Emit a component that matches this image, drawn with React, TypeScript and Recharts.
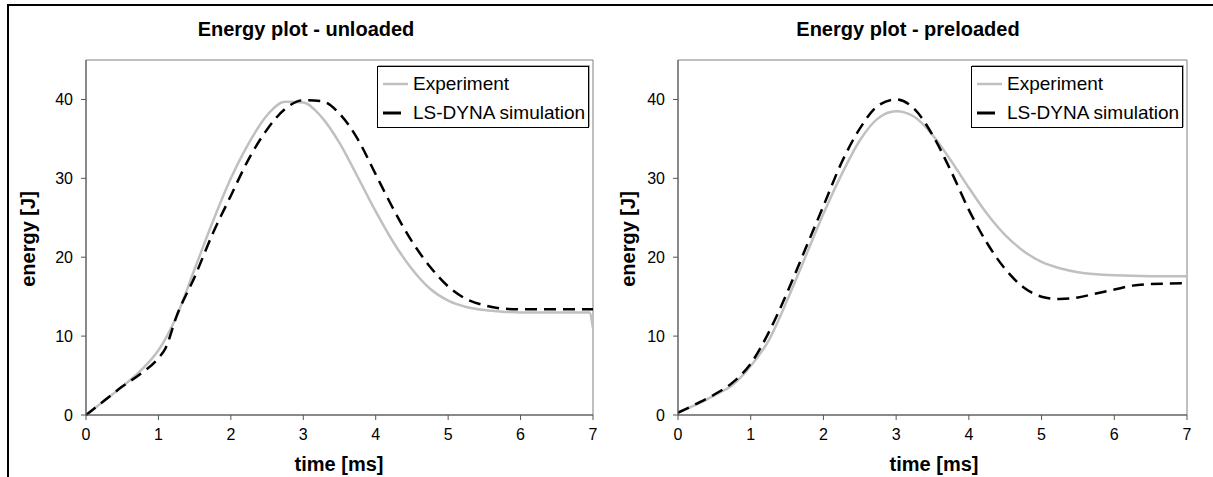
import { LineChart, Line, XAxis, YAxis, ReferenceArea, Legend } from 'recharts';

// time [ms] / energy [J]
const UNL_EXP_T = [0, 0.25, 0.5, 0.75, 1.0, 1.25, 1.5, 1.75, 2.0, 2.25, 2.5, 2.75, 3.0, 3.25, 3.5, 3.75, 4.0, 4.25, 4.5, 4.75, 5.0, 5.25, 5.5, 5.75, 6.0, 6.5, 6.95, 7.0];
const UNL_EXP_E = [0, 1.8, 3.6, 5.6, 8.2, 12.5, 18.5, 24.5, 30, 34.5, 38, 39.7, 39.6, 37.8, 34.5, 30.2, 25.8, 21.8, 18.5, 16, 14.5, 13.7, 13.3, 13.1, 13.0, 13.0, 13.0, 11];

const UNL_SIM_T = [0, 0.25, 0.5, 0.75, 1.0, 1.1, 1.25, 1.5, 1.75, 2.0, 2.25, 2.5, 2.75, 3.0, 3.25, 3.5, 3.75, 4.0, 4.25, 4.5, 4.75, 5.0, 5.25, 5.5, 5.75, 6.0, 6.5, 7.0];
const UNL_SIM_E = [0, 1.8, 3.6, 5.2, 7.2, 8.5, 12.5, 17.5, 23, 27.8, 32.5, 36.2, 38.8, 39.9, 39.8, 38.2, 35, 30.5, 26, 22, 18.8, 16.3, 14.7, 13.9, 13.5, 13.4, 13.4, 13.4];

const PRE_EXP_T = [0, 0.25, 0.5, 0.75, 1.0, 1.25, 1.5, 1.75, 2.0, 2.25, 2.5, 2.75, 3.0, 3.25, 3.5, 3.75, 4.0, 4.25, 4.5, 4.75, 5.0, 5.25, 5.5, 6.0, 6.5, 7.0];
const PRE_EXP_E = [0.3, 1.3, 2.5, 3.8, 6.2, 9.5, 14.5, 20, 25.5, 30.5, 34.8, 37.6, 38.5, 37.8, 35.5, 32.3, 28.8, 25.5, 22.8, 20.8, 19.4, 18.6, 18.1, 17.7, 17.6, 17.6];

const PRE_SIM_T = [0, 0.25, 0.5, 0.75, 1.0, 1.25, 1.5, 1.75, 2.0, 2.25, 2.5, 2.75, 3.0, 3.25, 3.5, 3.75, 4.0, 4.25, 4.5, 4.75, 5.0, 5.25, 5.5, 5.75, 6.0, 6.25, 6.5, 7.0];
const PRE_SIM_E = [0.3, 1.4, 2.6, 4.1, 6.5, 10.5, 15.5, 21, 26.5, 32, 36.3, 39.2, 40, 38.8, 35.5, 31, 26, 21.8, 18.5, 16.2, 15.0, 14.7, 14.9, 15.4, 15.9, 16.4, 16.6, 16.7];

const X_TICKS = [0, 1, 2, 3, 4, 5, 6, 7];
const Y_TICKS = [0, 10, 20, 30, 40];
const SERIES_NAMES = ['Experiment', 'LS-DYNA simulation'];

const toPoints = (t: number[], e: number[]) => t.map((x, i) => ({ t: x, e: e[i] }));

const FONT = 'Arial, "Liberation Sans", sans-serif';
const tickStyle = { fontSize: 16, fill: '#000', fontFamily: FONT };

const LegendBox = (props: any) => {
  const items = props.payload || [];
  return (
    <div
      style={{
        border: '1px solid #000',
        boxShadow: '1px -1px 0 #aaa',
        background: '#fff',
        width: 212,
        height: 62,
        boxSizing: 'border-box',
        fontFamily: FONT,
        fontSize: 19,
        paddingTop: 2,
        whiteSpace: 'nowrap',
      }}
    >
      {items.map((it: any) => (
        <div key={it.value} style={{ display: 'flex', alignItems: 'center', height: 29 }}>
          <svg width={35} height={10} style={{ flex: 'none' }}>
            <line x1={5} x2={it.color === '#000' ? 23 : 30} y1={5} y2={5} stroke={it.color} strokeWidth={it.color === '#000' ? 3 : 2.5} />
          </svg>
          <span>{it.value}</span>
        </div>
      ))}
    </div>
  );
};

interface PanelProps {
  left: number;
  width: number;
  marginLeft: number;
  marginRight: number;
  exp: { t: number; e: number }[];
  sim: { t: number; e: number }[];
  legendLeft: number;
}

const Panel = ({ left, width, marginLeft, marginRight, exp, sim, legendLeft }: PanelProps) => (
  <div style={{ position: 'absolute', left, top: 0 }}>
    <LineChart width={width} height={477} margin={{ top: 60, right: marginRight, bottom: 32, left: marginLeft }}>
      <XAxis
        type="number"
        dataKey="t"
        domain={[0, 7]}
        ticks={X_TICKS}
        allowDataOverflow
        tick={tickStyle}
        tickSize={5}
        tickMargin={9}
        stroke="#555"
        height={30}
      />
      <YAxis
        type="number"
        dataKey="e"
        domain={[0, 45]}
        ticks={Y_TICKS}
        tick={tickStyle}
        tickSize={5}
        tickMargin={8}
        stroke="#555"
        width={40}
      />
      <ReferenceArea x1={0} x2={7} y1={0} y2={45} fill="none" stroke="#808080" strokeWidth={1} ifOverflow="visible" />
      <Line
        data={exp}
        dataKey="e"
        name={SERIES_NAMES[0]}
        type="monotone"
        stroke="#c0c0c0"
        strokeWidth={2.5}
        dot={false}
        activeDot={false}
        isAnimationActive={false}
      />
      <Line
        data={sim}
        dataKey="e"
        name={SERIES_NAMES[1]}
        type="monotone"
        stroke="#000"
        strokeWidth={2.5}
        strokeDasharray="12 7"
        dot={false}
        activeDot={false}
        isAnimationActive={false}
      />
      <Legend
        verticalAlign="middle"
        align="center"
        content={LegendBox}
        wrapperStyle={{ left: legendLeft, top: 66, width: 212, height: 62 }}
      />
    </LineChart>
  </div>
);

const App = () => (
  <div style={{ position: 'absolute', left: 0, top: 0, width: 1213, height: 477, background: '#fff', overflow: 'hidden' }}>
    <Panel left={0} width={606} marginLeft={46} marginRight={13} exp={toPoints(UNL_EXP_T, UNL_EXP_E)} sim={toPoints(UNL_SIM_T, UNL_SIM_E)} legendLeft={377} />
    <Panel left={606} width={607} marginLeft={32} marginRight={26} exp={toPoints(PRE_EXP_T, PRE_EXP_E)} sim={toPoints(PRE_SIM_T, PRE_SIM_E)} legendLeft={365} />
    <svg width={1213} height={477} style={{ position: 'absolute', left: 0, top: 0, pointerEvents: 'none' }}>
      <line x1={7} x2={1213} y1={5} y2={5} stroke="#000" strokeWidth={2} />
      <line x1={8} x2={8} y1={4} y2={477} stroke="#000" strokeWidth={2} />
      <g fontFamily={FONT} fontWeight="bold" fill="#000">
        <text x={306} y={36} fontSize={20} textAnchor="middle">Energy plot - unloaded</text>
        <text x={908} y={36} fontSize={20} textAnchor="middle">Energy plot - preloaded</text>
        <text x={339} y={471} fontSize={20} textAnchor="middle">time [ms]</text>
        <text x={934} y={471} fontSize={20} textAnchor="middle">time [ms]</text>
        <text transform="translate(35,239) rotate(-90)" fontSize={20} textAnchor="middle">energy [J]</text>
        <text transform="translate(635,239) rotate(-90)" fontSize={20} textAnchor="middle">energy [J]</text>
      </g>
    </svg>
  </div>
);

export default App;
